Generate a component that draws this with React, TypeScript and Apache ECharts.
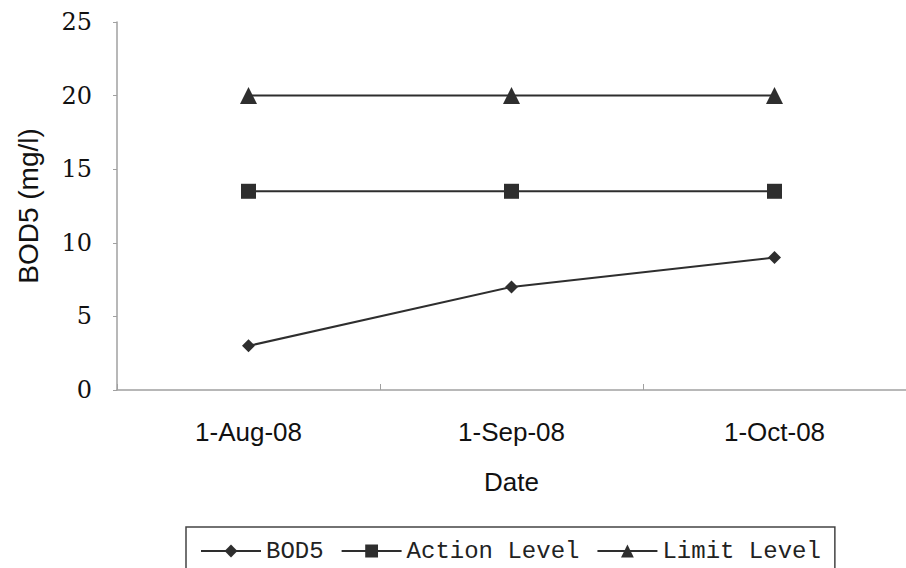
import React, { useEffect, useRef } from "react";
import * as echarts from "echarts";

const categories = ["1-Aug-08", "1-Sep-08", "1-Oct-08"];
const bod5 = [3, 7, 9];
const actionLevel = [13.5, 13.5, 13.5];
const limitLevel = [20, 20, 20];
const yTicks = { min: 0, max: 25, interval: 5 };

export default function App() {
  const ref = useRef<HTMLDivElement>(null);
  useEffect(() => {
    if (!ref.current) return;
    const chart = echarts.init(ref.current, null, { renderer: "svg" });
    const lineColor = "#2e2e2e";
    const mk = (name: string, data: number[], symbol: string, size: number) => ({
      name,
      type: "line",
      data,
      symbol,
      symbolSize: size,
      lineStyle: { color: lineColor, width: 2 },
      itemStyle: { color: lineColor },
    });
    chart.setOption({
      animation: false,
      backgroundColor: "#ffffff",
      grid: { left: 117, top: 22, width: 795, height: 368, containLabel: false },
      xAxis: {
        type: "category",
        data: categories,
        boundaryGap: true,
        axisLine: { lineStyle: { color: "#a0a0a0", width: 1.5 } },
        axisTick: { show: true, inside: true, length: 6, lineStyle: { color: "#a0a0a0" } },
        axisLabel: { color: "#111", fontFamily: "Liberation Sans", fontSize: 26, margin: 29 },
        name: "Date",
        nameLocation: "middle",
        nameGap: 79,
        nameTextStyle: { color: "#111", fontFamily: "Liberation Sans", fontSize: 26 },
      },
      yAxis: {
        type: "value",
        min: yTicks.min,
        max: yTicks.max,
        interval: yTicks.interval,
        axisLine: { show: true, lineStyle: { color: "#a0a0a0", width: 1.5 } },
        axisTick: { show: true, length: 4, lineStyle: { color: "#a0a0a0" } },
        splitLine: { show: false },
        axisLabel: { color: "#111", fontFamily: "DejaVu Serif", fontSize: 24, margin: 25 },
        name: "BOD5 (mg/l)",
        nameLocation: "middle",
        nameGap: 75,
        nameTextStyle: { color: "#111", fontFamily: "Liberation Sans", fontSize: 28 },
      },
      legend: {
        left: 186,
        top: 527,
        orient: "horizontal",
        itemWidth: 60,
        itemHeight: 16,
        itemGap: 17,
        padding: [12, 14, 16, 14],
        borderColor: "#444",
        borderWidth: 1.5,
        textStyle: { color: "#222", fontFamily: "Liberation Mono", fontSize: 24 },
        data: ["BOD5", "Action Level", "Limit Level"],
      },
      series: [
        mk("BOD5", bod5, "diamond", 13),
        mk("Action Level", actionLevel, "rect", 15),
        mk("Limit Level", limitLevel, "triangle", 17),
      ],
    });
    return () => chart.dispose();
  }, []);
  return (
    <div
      ref={ref}
      style={{ position: "fixed", left: 0, top: 0, width: 906, height: 568, background: "#fff" }}
    />
  );
}
